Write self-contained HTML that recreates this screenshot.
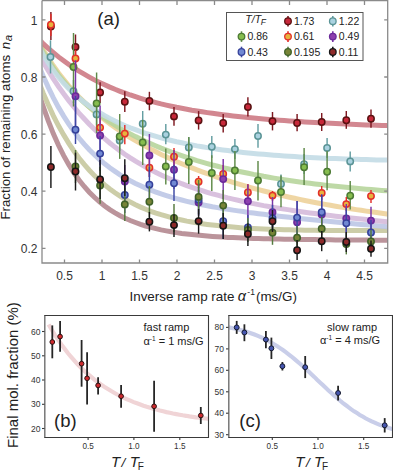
<!DOCTYPE html>
<html><head><meta charset="utf-8"><style>
html,body{margin:0;padding:0;background:#fff;width:393px;height:470px;overflow:hidden}
body{position:relative;font-family:"Liberation Sans",sans-serif}
svg text{font-family:"Liberation Sans",sans-serif}
</style></head><body>
<svg width="393" height="470" viewBox="0 0 393 470" style="position:absolute;left:0;top:0">
<defs><clipPath id="ca"><rect x="42.5" y="0.5" width="345.5" height="262"/></clipPath><clipPath id="cb"><rect x="44.5" y="315" width="164" height="122"/></clipPath><clipPath id="cc"><rect x="229" y="315" width="163.5" height="122"/></clipPath></defs>
<g clip-path="url(#ca)" fill="none" stroke-width="5" stroke-linecap="butt">
<path d="M38 90.1 L43.1 106.4 L48.3 120.9 L53.4 133.8 L58.5 145.3 L63.7 155.6 L68.8 164.7 L73.9 172.8 L79 180 L84.2 186.5 L89.3 192.2 L94.4 197.3 L99.6 201.9 L104.7 206 L109.8 209.6 L115 212.8 L120.1 215.7 L125.2 218.2 L130.3 220.5 L135.5 222.5 L140.6 224.4 L145.7 226 L150.9 227.4 L156 228.7 L161.1 229.9 L166.3 230.9 L171.4 231.8 L176.5 232.6 L181.7 233.4 L186.8 234 L191.9 234.6 L197 235.1 L202.2 235.6 L207.3 236 L212.4 236.4 L217.6 236.8 L222.7 237.1 L227.8 237.4 L233 237.6 L238.1 237.8 L243.2 238 L248.3 238.2 L253.5 238.4 L258.6 238.6 L263.7 238.7 L268.9 238.8 L274 238.9 L279.1 239.1 L284.3 239.2 L289.4 239.2 L294.5 239.3 L299.7 239.4 L304.8 239.5 L309.9 239.6 L315 239.6 L320.2 239.7 L325.3 239.8 L330.4 239.8 L335.6 239.9 L340.7 239.9 L345.8 240 L351 240 L356.1 240.1 L361.2 240.1 L366.3 240.1 L371.5 240.2 L376.6 240.2 L381.7 240.3 L386.9 240.3 L392 240.3" stroke="#b48890" stroke-opacity="0.9"/>
<path d="M38 79.8 L43.1 92.9 L48.3 104.8 L53.4 115.8 L58.5 125.8 L63.7 134.9 L68.8 143.3 L73.9 151 L79 158 L84.2 164.4 L89.3 170.2 L94.4 175.6 L99.6 180.5 L104.7 184.9 L109.8 189 L115 192.8 L120.1 196.2 L125.2 199.3 L130.3 202.1 L135.5 204.7 L140.6 207.1 L145.7 209.3 L150.9 211.3 L156 213.1 L161.1 214.7 L166.3 216.2 L171.4 217.6 L176.5 218.9 L181.7 220 L186.8 221.1 L191.9 222 L197 222.9 L202.2 223.7 L207.3 224.4 L212.4 225 L217.6 225.6 L222.7 226.2 L227.8 226.6 L233 227.1 L238.1 227.5 L243.2 227.9 L248.3 228.2 L253.5 228.5 L258.6 228.7 L263.7 229 L268.9 229.2 L274 229.4 L279.1 229.6 L284.3 229.7 L289.4 229.8 L294.5 230 L299.7 230.1 L304.8 230.2 L309.9 230.2 L315 230.3 L320.2 230.4 L325.3 230.4 L330.4 230.5 L335.6 230.5 L340.7 230.5 L345.8 230.6 L351 230.6 L356.1 230.6 L361.2 230.6 L366.3 230.6 L371.5 230.6 L376.6 230.6 L381.7 230.6 L386.9 230.5 L392 230.5" stroke="#c6c89e" stroke-opacity="0.9"/>
<path d="M38 63.5 L43.1 76 L48.3 87.4 L53.4 97.8 L58.5 107.4 L63.7 116.1 L68.8 124 L73.9 131.3 L79 138 L84.2 144.1 L89.3 149.7 L94.4 154.8 L99.6 159.5 L104.7 163.8 L109.8 167.8 L115 171.4 L120.1 174.8 L125.2 177.9 L130.3 180.7 L135.5 183.4 L140.6 185.8 L145.7 188.1 L150.9 190.2 L156 192.1 L161.1 193.9 L166.3 195.6 L171.4 197.2 L176.5 198.6 L181.7 200 L186.8 201.3 L191.9 202.5 L197 203.6 L202.2 204.7 L207.3 205.7 L212.4 206.7 L217.6 207.6 L222.7 208.5 L227.8 209.3 L233 210.1 L238.1 210.9 L243.2 211.6 L248.3 212.4 L253.5 213 L258.6 213.7 L263.7 214.3 L268.9 215 L274 215.6 L279.1 216.2 L284.3 216.7 L289.4 217.3 L294.5 217.9 L299.7 218.4 L304.8 218.9 L309.9 219.5 L315 220 L320.2 220.5 L325.3 221 L330.4 221.5 L335.6 222 L340.7 222.5 L345.8 222.9 L351 223.4 L356.1 223.9 L361.2 224.4 L366.3 224.8 L371.5 225.3 L376.6 225.8 L381.7 226.2 L386.9 226.7 L392 227.1" stroke="#bcc6e6" stroke-opacity="0.9"/>
<path d="M38 52.8 L43.1 62 L48.3 70.7 L53.4 78.8 L58.5 86.5 L63.7 93.8 L68.8 100.6 L73.9 107 L79 113.1 L84.2 118.8 L89.3 124.3 L94.4 129.3 L99.6 134.2 L104.7 138.7 L109.8 143 L115 147.1 L120.1 150.9 L125.2 154.5 L130.3 157.9 L135.5 161.2 L140.6 164.2 L145.7 167.1 L150.9 169.9 L156 172.5 L161.1 175 L166.3 177.3 L171.4 179.5 L176.5 181.6 L181.7 183.7 L186.8 185.6 L191.9 187.4 L197 189.1 L202.2 190.7 L207.3 192.3 L212.4 193.8 L217.6 195.2 L222.7 196.6 L227.8 197.9 L233 199.1 L238.1 200.3 L243.2 201.5 L248.3 202.6 L253.5 203.6 L258.6 204.6 L263.7 205.6 L268.9 206.5 L274 207.4 L279.1 208.3 L284.3 209.1 L289.4 209.9 L294.5 210.7 L299.7 211.5 L304.8 212.2 L309.9 212.9 L315 213.6 L320.2 214.3 L325.3 214.9 L330.4 215.6 L335.6 216.2 L340.7 216.8 L345.8 217.4 L351 218 L356.1 218.5 L361.2 219.1 L366.3 219.6 L371.5 220.2 L376.6 220.7 L381.7 221.2 L386.9 221.7 L392 222.2" stroke="#d5bada" stroke-opacity="0.9"/>
<path d="M38 40.6 L43.1 49.7 L48.3 58.1 L53.4 65.8 L58.5 73 L63.7 79.6 L68.8 85.8 L73.9 91.6 L79 97 L84.2 102.1 L89.3 106.9 L94.4 111.5 L99.6 115.8 L104.7 119.8 L109.8 123.7 L115 127.4 L120.1 130.9 L125.2 134.3 L130.3 137.5 L135.5 140.6 L140.6 143.6 L145.7 146.4 L150.9 149.2 L156 151.8 L161.1 154.4 L166.3 156.8 L171.4 159.2 L176.5 161.5 L181.7 163.7 L186.8 165.8 L191.9 167.9 L197 169.9 L202.2 171.8 L207.3 173.7 L212.4 175.5 L217.6 177.3 L222.7 179 L227.8 180.7 L233 182.3 L238.1 183.9 L243.2 185.4 L248.3 186.8 L253.5 188.3 L258.6 189.7 L263.7 191 L268.9 192.3 L274 193.6 L279.1 194.8 L284.3 196 L289.4 197.2 L294.5 198.3 L299.7 199.4 L304.8 200.5 L309.9 201.5 L315 202.5 L320.2 203.5 L325.3 204.4 L330.4 205.3 L335.6 206.2 L340.7 207.1 L345.8 207.9 L351 208.8 L356.1 209.6 L361.2 210.3 L366.3 211.1 L371.5 211.8 L376.6 212.5 L381.7 213.2 L386.9 213.9 L392 214.5" stroke="#edd29a" stroke-opacity="0.9"/>
<path d="M38 42.2 L43.1 51.7 L48.3 60.3 L53.4 68 L58.5 75 L63.7 81.5 L68.8 87.4 L73.9 92.8 L79 97.9 L84.2 102.6 L89.3 107 L94.4 111.1 L99.6 114.9 L104.7 118.5 L109.8 122 L115 125.2 L120.1 128.3 L125.2 131.2 L130.3 133.9 L135.5 136.6 L140.6 139.1 L145.7 141.5 L150.9 143.8 L156 146 L161.1 148.1 L166.3 150.1 L171.4 152.1 L176.5 153.9 L181.7 155.7 L186.8 157.4 L191.9 159 L197 160.6 L202.2 162.1 L207.3 163.6 L212.4 165 L217.6 166.3 L222.7 167.6 L227.8 168.8 L233 170 L238.1 171.2 L243.2 172.3 L248.3 173.3 L253.5 174.4 L258.6 175.3 L263.7 176.3 L268.9 177.2 L274 178.1 L279.1 178.9 L284.3 179.7 L289.4 180.5 L294.5 181.3 L299.7 182 L304.8 182.7 L309.9 183.3 L315 184 L320.2 184.6 L325.3 185.2 L330.4 185.8 L335.6 186.3 L340.7 186.8 L345.8 187.3 L351 187.8 L356.1 188.3 L361.2 188.8 L366.3 189.2 L371.5 189.6 L376.6 190 L381.7 190.4 L386.9 190.8 L392 191.1" stroke="#b7d59c" stroke-opacity="0.9"/>
<path d="M38 45.2 L43.1 54.7 L48.3 63.1 L53.4 70.6 L58.5 77.2 L63.7 83.3 L68.8 88.7 L73.9 93.6 L79 98.1 L84.2 102.2 L89.3 106 L94.4 109.5 L99.6 112.7 L104.7 115.7 L109.8 118.4 L115 121 L120.1 123.4 L125.2 125.7 L130.3 127.8 L135.5 129.7 L140.6 131.6 L145.7 133.3 L150.9 134.9 L156 136.4 L161.1 137.9 L166.3 139.2 L171.4 140.5 L176.5 141.7 L181.7 142.8 L186.8 143.9 L191.9 144.9 L197 145.9 L202.2 146.8 L207.3 147.6 L212.4 148.4 L217.6 149.2 L222.7 149.9 L227.8 150.5 L233 151.2 L238.1 151.8 L243.2 152.4 L248.3 152.9 L253.5 153.4 L258.6 153.9 L263.7 154.3 L268.9 154.8 L274 155.2 L279.1 155.6 L284.3 155.9 L289.4 156.3 L294.5 156.6 L299.7 156.9 L304.8 157.2 L309.9 157.4 L315 157.7 L320.2 157.9 L325.3 158.2 L330.4 158.4 L335.6 158.6 L340.7 158.8 L345.8 159 L351 159.2 L356.1 159.3 L361.2 159.5 L366.3 159.6 L371.5 159.8 L376.6 159.9 L381.7 160 L386.9 160.1 L392 160.2" stroke="#c3dce6" stroke-opacity="0.9"/>
<path d="M38 38.6 L43.1 43.6 L48.3 48.3 L53.4 52.7 L58.5 56.9 L63.7 60.8 L68.8 64.5 L73.9 67.9 L79 71.2 L84.2 74.2 L89.3 77.1 L94.4 79.9 L99.6 82.4 L104.7 84.8 L109.8 87.1 L115 89.3 L120.1 91.3 L125.2 93.2 L130.3 95 L135.5 96.7 L140.6 98.3 L145.7 99.8 L150.9 101.2 L156 102.6 L161.1 103.9 L166.3 105.1 L171.4 106.2 L176.5 107.3 L181.7 108.3 L186.8 109.2 L191.9 110.2 L197 111 L202.2 111.8 L207.3 112.6 L212.4 113.3 L217.6 114 L222.7 114.7 L227.8 115.3 L233 115.9 L238.1 116.5 L243.2 117 L248.3 117.5 L253.5 118 L258.6 118.5 L263.7 118.9 L268.9 119.4 L274 119.8 L279.1 120.2 L284.3 120.5 L289.4 120.9 L294.5 121.2 L299.7 121.6 L304.8 121.9 L309.9 122.2 L315 122.5 L320.2 122.7 L325.3 123 L330.4 123.3 L335.6 123.5 L340.7 123.8 L345.8 124 L351 124.2 L356.1 124.5 L361.2 124.7 L366.3 124.9 L371.5 125.1 L376.6 125.3 L381.7 125.5 L386.9 125.6 L392 125.8" stroke="#cd7a84" stroke-opacity="0.9"/>
</g>
<g stroke="#8a8a8a" stroke-width="1.3" fill="none">
<path d="M42 0.5 V263 H387.7 V0.5 H42"/>
<path d="M64.5 263 v-3.5 M64.5 0 v5"/>
<path d="M102 263 v-3.5 M102 0 v5"/>
<path d="M139.5 263 v-3.5 M139.5 0 v5"/>
<path d="M177 263 v-3.5 M177 0 v5"/>
<path d="M214.5 263 v-3.5 M214.5 0 v5"/>
<path d="M252 263 v-3.5 M252 0 v5"/>
<path d="M289.5 263 v-3.5 M289.5 0 v5"/>
<path d="M327 263 v-3.5 M327 0 v5"/>
<path d="M364.5 263 v-3.5 M364.5 0 v5"/>
<path d="M42 19.9 h3.5 M387.7 19.9 h-3.5"/>
<path d="M42 77 h3.5 M387.7 77 h-3.5"/>
<path d="M42 134.1 h3.5 M387.7 134.1 h-3.5"/>
<path d="M42 191.2 h3.5 M387.7 191.2 h-3.5"/>
<path d="M42 248.3 h3.5 M387.7 248.3 h-3.5"/>
</g>
<g>
<line x1="50.9" y1="12" x2="50.9" y2="40" stroke="#7e1820" stroke-width="1.45"/>
<circle cx="50.9" cy="26.4" r="3.2" fill="#c8283a" stroke="#5a1212" stroke-width="1.5"/>
<line x1="75.5" y1="34.5" x2="75.5" y2="59.5" stroke="#7e1820" stroke-width="1.45"/>
<circle cx="75.5" cy="47" r="3.2" fill="#c8283a" stroke="#5a1212" stroke-width="1.5"/>
<line x1="100.1" y1="82.3" x2="100.1" y2="103" stroke="#7e1820" stroke-width="1.45"/>
<circle cx="100.1" cy="92.4" r="3.2" fill="#c8283a" stroke="#5a1212" stroke-width="1.5"/>
<line x1="124.8" y1="91.2" x2="124.8" y2="112" stroke="#7e1820" stroke-width="1.45"/>
<circle cx="124.8" cy="101.8" r="3.2" fill="#c8283a" stroke="#5a1212" stroke-width="1.5"/>
<line x1="149.4" y1="91.8" x2="149.4" y2="110.3" stroke="#7e1820" stroke-width="1.45"/>
<circle cx="149.4" cy="100.9" r="3.2" fill="#c8283a" stroke="#5a1212" stroke-width="1.5"/>
<line x1="174" y1="107" x2="174" y2="125.7" stroke="#7e1820" stroke-width="1.45"/>
<circle cx="174" cy="116.4" r="3.2" fill="#c8283a" stroke="#5a1212" stroke-width="1.5"/>
<line x1="198.6" y1="111.1" x2="198.6" y2="129.6" stroke="#7e1820" stroke-width="1.45"/>
<circle cx="198.6" cy="120.4" r="3.2" fill="#c8283a" stroke="#5a1212" stroke-width="1.5"/>
<line x1="223.2" y1="113.9" x2="223.2" y2="132.4" stroke="#7e1820" stroke-width="1.45"/>
<circle cx="223.2" cy="123" r="3.2" fill="#c8283a" stroke="#5a1212" stroke-width="1.5"/>
<line x1="247.9" y1="97.3" x2="247.9" y2="116.6" stroke="#7e1820" stroke-width="1.45"/>
<circle cx="247.9" cy="107" r="3.2" fill="#c8283a" stroke="#5a1212" stroke-width="1.5"/>
<line x1="272.5" y1="112" x2="272.5" y2="130.4" stroke="#7e1820" stroke-width="1.45"/>
<circle cx="272.5" cy="121.3" r="3.2" fill="#c8283a" stroke="#5a1212" stroke-width="1.5"/>
<line x1="297.1" y1="113.9" x2="297.1" y2="131.3" stroke="#7e1820" stroke-width="1.45"/>
<circle cx="297.1" cy="123" r="3.2" fill="#c8283a" stroke="#5a1212" stroke-width="1.5"/>
<line x1="321.7" y1="113" x2="321.7" y2="131" stroke="#7e1820" stroke-width="1.45"/>
<circle cx="321.7" cy="122" r="3.2" fill="#c8283a" stroke="#5a1212" stroke-width="1.5"/>
<line x1="346.3" y1="111" x2="346.3" y2="128.8" stroke="#7e1820" stroke-width="1.45"/>
<circle cx="346.3" cy="120.2" r="3.2" fill="#c8283a" stroke="#5a1212" stroke-width="1.5"/>
<line x1="371" y1="109.6" x2="371" y2="127.7" stroke="#7e1820" stroke-width="1.45"/>
<circle cx="371" cy="118.8" r="3.2" fill="#c8283a" stroke="#5a1212" stroke-width="1.5"/>
<line x1="50.5" y1="40.3" x2="50.5" y2="73.5" stroke="#649ea2" stroke-width="1.45"/>
<circle cx="50.5" cy="57" r="3.2" fill="#aad2e0" stroke="#5b9496" stroke-width="1.5"/>
<line x1="73.5" y1="80" x2="73.5" y2="103" stroke="#649ea2" stroke-width="1.45"/>
<circle cx="73.5" cy="91.3" r="3.2" fill="#aad2e0" stroke="#5b9496" stroke-width="1.5"/>
<line x1="96.6" y1="104" x2="96.6" y2="125" stroke="#649ea2" stroke-width="1.45"/>
<circle cx="96.6" cy="114.4" r="3.2" fill="#aad2e0" stroke="#5b9496" stroke-width="1.5"/>
<line x1="119.7" y1="130" x2="119.7" y2="151" stroke="#649ea2" stroke-width="1.45"/>
<circle cx="119.7" cy="140.5" r="3.2" fill="#aad2e0" stroke="#5b9496" stroke-width="1.5"/>
<line x1="142.7" y1="111" x2="142.7" y2="136" stroke="#649ea2" stroke-width="1.45"/>
<circle cx="142.7" cy="123.8" r="3.2" fill="#aad2e0" stroke="#5b9496" stroke-width="1.5"/>
<line x1="165.8" y1="124" x2="165.8" y2="144.3" stroke="#649ea2" stroke-width="1.45"/>
<circle cx="165.8" cy="134.6" r="3.2" fill="#aad2e0" stroke="#5b9496" stroke-width="1.5"/>
<line x1="188.8" y1="137.3" x2="188.8" y2="157.2" stroke="#649ea2" stroke-width="1.45"/>
<circle cx="188.8" cy="147.4" r="3.2" fill="#aad2e0" stroke="#5b9496" stroke-width="1.5"/>
<line x1="211.8" y1="136" x2="211.8" y2="158" stroke="#649ea2" stroke-width="1.45"/>
<circle cx="211.8" cy="146.8" r="3.2" fill="#aad2e0" stroke="#5b9496" stroke-width="1.5"/>
<line x1="234.9" y1="139" x2="234.9" y2="159" stroke="#649ea2" stroke-width="1.45"/>
<circle cx="234.9" cy="149.1" r="3.2" fill="#aad2e0" stroke="#5b9496" stroke-width="1.5"/>
<line x1="258" y1="124" x2="258" y2="147.8" stroke="#649ea2" stroke-width="1.45"/>
<circle cx="258" cy="136" r="3.2" fill="#aad2e0" stroke="#5b9496" stroke-width="1.5"/>
<line x1="281" y1="174.6" x2="281" y2="193" stroke="#649ea2" stroke-width="1.45"/>
<circle cx="281" cy="184" r="3.2" fill="#aad2e0" stroke="#5b9496" stroke-width="1.5"/>
<line x1="304.1" y1="154" x2="304.1" y2="174" stroke="#649ea2" stroke-width="1.45"/>
<circle cx="304.1" cy="164.2" r="3.2" fill="#aad2e0" stroke="#5b9496" stroke-width="1.5"/>
<line x1="327.1" y1="138" x2="327.1" y2="158" stroke="#649ea2" stroke-width="1.45"/>
<circle cx="327.1" cy="147.9" r="3.2" fill="#aad2e0" stroke="#5b9496" stroke-width="1.5"/>
<line x1="350.2" y1="151.6" x2="350.2" y2="171.4" stroke="#649ea2" stroke-width="1.45"/>
<circle cx="350.2" cy="161.4" r="3.2" fill="#aad2e0" stroke="#5b9496" stroke-width="1.5"/>
<line x1="73.5" y1="33" x2="73.5" y2="106.5" stroke="#5f8a48" stroke-width="1.45"/>
<circle cx="73.5" cy="67" r="3.2" fill="#86bd4e" stroke="#4d7a35" stroke-width="1.5"/>
<line x1="96.6" y1="72.5" x2="96.6" y2="133.2" stroke="#5f8a48" stroke-width="1.45"/>
<circle cx="96.6" cy="103.4" r="3.2" fill="#86bd4e" stroke="#4d7a35" stroke-width="1.5"/>
<line x1="119.7" y1="114" x2="119.7" y2="158.9" stroke="#5f8a48" stroke-width="1.45"/>
<circle cx="119.7" cy="136.5" r="3.2" fill="#86bd4e" stroke="#4d7a35" stroke-width="1.5"/>
<line x1="142.7" y1="120" x2="142.7" y2="165" stroke="#5f8a48" stroke-width="1.45"/>
<circle cx="142.7" cy="142.4" r="3.2" fill="#86bd4e" stroke="#4d7a35" stroke-width="1.5"/>
<line x1="165.8" y1="148.6" x2="165.8" y2="184.4" stroke="#5f8a48" stroke-width="1.45"/>
<circle cx="165.8" cy="166.4" r="3.2" fill="#86bd4e" stroke="#4d7a35" stroke-width="1.5"/>
<line x1="188.8" y1="137" x2="188.8" y2="184" stroke="#5f8a48" stroke-width="1.45"/>
<circle cx="188.8" cy="162" r="3.2" fill="#86bd4e" stroke="#4d7a35" stroke-width="1.5"/>
<line x1="211.8" y1="155.3" x2="211.8" y2="191" stroke="#5f8a48" stroke-width="1.45"/>
<circle cx="211.8" cy="173" r="3.2" fill="#86bd4e" stroke="#4d7a35" stroke-width="1.5"/>
<line x1="234.9" y1="151" x2="234.9" y2="190" stroke="#5f8a48" stroke-width="1.45"/>
<circle cx="234.9" cy="170.5" r="3.2" fill="#86bd4e" stroke="#4d7a35" stroke-width="1.5"/>
<line x1="258" y1="161" x2="258" y2="200.5" stroke="#5f8a48" stroke-width="1.45"/>
<circle cx="258" cy="180.5" r="3.2" fill="#86bd4e" stroke="#4d7a35" stroke-width="1.5"/>
<line x1="281" y1="175.4" x2="281" y2="207.2" stroke="#5f8a48" stroke-width="1.45"/>
<circle cx="281" cy="192" r="3.2" fill="#86bd4e" stroke="#4d7a35" stroke-width="1.5"/>
<line x1="304.1" y1="148" x2="304.1" y2="185" stroke="#5f8a48" stroke-width="1.45"/>
<circle cx="304.1" cy="167.2" r="3.2" fill="#86bd4e" stroke="#4d7a35" stroke-width="1.5"/>
<line x1="327.1" y1="151" x2="327.1" y2="190.3" stroke="#5f8a48" stroke-width="1.45"/>
<circle cx="327.1" cy="171.8" r="3.2" fill="#86bd4e" stroke="#4d7a35" stroke-width="1.5"/>
<line x1="350.2" y1="181" x2="350.2" y2="209.6" stroke="#5f8a48" stroke-width="1.45"/>
<circle cx="350.2" cy="195.7" r="3.2" fill="#86bd4e" stroke="#4d7a35" stroke-width="1.5"/>
<line x1="50.9" y1="14" x2="50.9" y2="36" stroke="#e2302a" stroke-width="1.45"/>
<circle cx="50.9" cy="24.8" r="3.2" fill="#e7b33e" stroke="#e2302a" stroke-width="1.5"/>
<line x1="75.5" y1="50" x2="75.5" y2="67" stroke="#e2302a" stroke-width="1.45"/>
<circle cx="75.5" cy="58.5" r="3.2" fill="#e7b33e" stroke="#e2302a" stroke-width="1.5"/>
<line x1="100.1" y1="118" x2="100.1" y2="137" stroke="#e2302a" stroke-width="1.45"/>
<circle cx="100.1" cy="127.6" r="3.2" fill="#e7b33e" stroke="#e2302a" stroke-width="1.5"/>
<line x1="124.8" y1="124.9" x2="124.8" y2="144.3" stroke="#e2302a" stroke-width="1.45"/>
<circle cx="124.8" cy="133.6" r="3.2" fill="#e7b33e" stroke="#e2302a" stroke-width="1.5"/>
<line x1="149.4" y1="158" x2="149.4" y2="177" stroke="#e2302a" stroke-width="1.45"/>
<circle cx="149.4" cy="167.8" r="3.2" fill="#e7b33e" stroke="#e2302a" stroke-width="1.5"/>
<line x1="174" y1="148" x2="174" y2="166" stroke="#e2302a" stroke-width="1.45"/>
<circle cx="174" cy="156.8" r="3.2" fill="#e7b33e" stroke="#e2302a" stroke-width="1.5"/>
<line x1="198.6" y1="176" x2="198.6" y2="188" stroke="#e2302a" stroke-width="1.45"/>
<circle cx="198.6" cy="181.7" r="3.2" fill="#e7b33e" stroke="#e2302a" stroke-width="1.5"/>
<line x1="223.2" y1="165" x2="223.2" y2="183" stroke="#e2302a" stroke-width="1.45"/>
<circle cx="223.2" cy="173.9" r="3.2" fill="#e7b33e" stroke="#e2302a" stroke-width="1.5"/>
<line x1="247.9" y1="184" x2="247.9" y2="201" stroke="#e2302a" stroke-width="1.45"/>
<circle cx="247.9" cy="192.5" r="3.2" fill="#e7b33e" stroke="#e2302a" stroke-width="1.5"/>
<line x1="272.5" y1="191" x2="272.5" y2="201" stroke="#e2302a" stroke-width="1.45"/>
<circle cx="272.5" cy="195.6" r="3.2" fill="#e7b33e" stroke="#e2302a" stroke-width="1.5"/>
<line x1="321.7" y1="186" x2="321.7" y2="200" stroke="#e2302a" stroke-width="1.45"/>
<circle cx="321.7" cy="193" r="3.2" fill="#e7b33e" stroke="#e2302a" stroke-width="1.5"/>
<line x1="346.3" y1="197" x2="346.3" y2="211" stroke="#e2302a" stroke-width="1.45"/>
<circle cx="346.3" cy="204.1" r="3.2" fill="#e7b33e" stroke="#e2302a" stroke-width="1.5"/>
<line x1="371" y1="190" x2="371" y2="203" stroke="#e2302a" stroke-width="1.45"/>
<circle cx="371" cy="196.1" r="3.2" fill="#e7b33e" stroke="#e2302a" stroke-width="1.5"/>
<line x1="75.5" y1="60.3" x2="75.5" y2="132" stroke="#7a35a8" stroke-width="1.45"/>
<circle cx="75.5" cy="96.2" r="3.2" fill="#8d3fae" stroke="#6a2a9a" stroke-width="1.5"/>
<line x1="100.1" y1="105.6" x2="100.1" y2="165" stroke="#7a35a8" stroke-width="1.45"/>
<circle cx="100.1" cy="135.5" r="3.2" fill="#8d3fae" stroke="#6a2a9a" stroke-width="1.5"/>
<line x1="124.8" y1="165" x2="124.8" y2="198" stroke="#7a35a8" stroke-width="1.45"/>
<circle cx="124.8" cy="181.6" r="3.2" fill="#8d3fae" stroke="#6a2a9a" stroke-width="1.5"/>
<line x1="149.4" y1="134" x2="149.4" y2="177" stroke="#7a35a8" stroke-width="1.45"/>
<circle cx="149.4" cy="155.4" r="3.2" fill="#8d3fae" stroke="#6a2a9a" stroke-width="1.5"/>
<line x1="174" y1="150" x2="174" y2="189" stroke="#7a35a8" stroke-width="1.45"/>
<circle cx="174" cy="169.7" r="3.2" fill="#8d3fae" stroke="#6a2a9a" stroke-width="1.5"/>
<line x1="198.6" y1="190" x2="198.6" y2="215" stroke="#7a35a8" stroke-width="1.45"/>
<circle cx="198.6" cy="202.5" r="3.2" fill="#8d3fae" stroke="#6a2a9a" stroke-width="1.5"/>
<line x1="223.2" y1="158.9" x2="223.2" y2="199" stroke="#7a35a8" stroke-width="1.45"/>
<circle cx="223.2" cy="179.1" r="3.2" fill="#8d3fae" stroke="#6a2a9a" stroke-width="1.5"/>
<line x1="247.9" y1="184.5" x2="247.9" y2="218" stroke="#7a35a8" stroke-width="1.45"/>
<circle cx="247.9" cy="201.2" r="3.2" fill="#8d3fae" stroke="#6a2a9a" stroke-width="1.5"/>
<line x1="272.5" y1="197" x2="272.5" y2="227" stroke="#7a35a8" stroke-width="1.45"/>
<circle cx="272.5" cy="212.2" r="3.2" fill="#8d3fae" stroke="#6a2a9a" stroke-width="1.5"/>
<line x1="297.1" y1="201" x2="297.1" y2="243" stroke="#7a35a8" stroke-width="1.45"/>
<circle cx="297.1" cy="222.2" r="3.2" fill="#8d3fae" stroke="#6a2a9a" stroke-width="1.5"/>
<line x1="321.7" y1="194" x2="321.7" y2="235" stroke="#7a35a8" stroke-width="1.45"/>
<circle cx="321.7" cy="214.4" r="3.2" fill="#8d3fae" stroke="#6a2a9a" stroke-width="1.5"/>
<line x1="346.3" y1="204" x2="346.3" y2="233" stroke="#7a35a8" stroke-width="1.45"/>
<circle cx="346.3" cy="218.5" r="3.2" fill="#8d3fae" stroke="#6a2a9a" stroke-width="1.5"/>
<line x1="371" y1="206.7" x2="371" y2="234.5" stroke="#7a35a8" stroke-width="1.45"/>
<circle cx="371" cy="220.6" r="3.2" fill="#8d3fae" stroke="#6a2a9a" stroke-width="1.5"/>
<line x1="75.5" y1="96" x2="75.5" y2="144" stroke="#3c48a4" stroke-width="1.45"/>
<circle cx="75.5" cy="129.7" r="3.2" fill="#7189d3" stroke="#35409a" stroke-width="1.5"/>
<line x1="100.1" y1="136" x2="100.1" y2="171" stroke="#3c48a4" stroke-width="1.45"/>
<circle cx="100.1" cy="153.6" r="3.2" fill="#7189d3" stroke="#35409a" stroke-width="1.5"/>
<line x1="124.8" y1="177" x2="124.8" y2="213" stroke="#3c48a4" stroke-width="1.45"/>
<circle cx="124.8" cy="195" r="3.2" fill="#7189d3" stroke="#35409a" stroke-width="1.5"/>
<line x1="149.4" y1="167" x2="149.4" y2="203" stroke="#3c48a4" stroke-width="1.45"/>
<circle cx="149.4" cy="184.8" r="3.2" fill="#7189d3" stroke="#35409a" stroke-width="1.5"/>
<line x1="174" y1="165" x2="174" y2="201" stroke="#3c48a4" stroke-width="1.45"/>
<circle cx="174" cy="183.3" r="3.2" fill="#7189d3" stroke="#35409a" stroke-width="1.5"/>
<line x1="198.6" y1="183" x2="198.6" y2="216" stroke="#3c48a4" stroke-width="1.45"/>
<circle cx="198.6" cy="199.7" r="3.2" fill="#7189d3" stroke="#35409a" stroke-width="1.5"/>
<line x1="223.2" y1="205" x2="223.2" y2="239" stroke="#3c48a4" stroke-width="1.45"/>
<circle cx="223.2" cy="221.2" r="3.2" fill="#7189d3" stroke="#35409a" stroke-width="1.5"/>
<line x1="247.9" y1="215" x2="247.9" y2="240" stroke="#3c48a4" stroke-width="1.45"/>
<circle cx="247.9" cy="227.4" r="3.2" fill="#7189d3" stroke="#35409a" stroke-width="1.5"/>
<line x1="272.5" y1="205" x2="272.5" y2="231" stroke="#3c48a4" stroke-width="1.45"/>
<circle cx="272.5" cy="218.3" r="3.2" fill="#7189d3" stroke="#35409a" stroke-width="1.5"/>
<line x1="297.1" y1="200.9" x2="297.1" y2="234" stroke="#3c48a4" stroke-width="1.45"/>
<circle cx="297.1" cy="217.6" r="3.2" fill="#7189d3" stroke="#35409a" stroke-width="1.5"/>
<line x1="321.7" y1="195" x2="321.7" y2="229" stroke="#3c48a4" stroke-width="1.45"/>
<circle cx="321.7" cy="212.3" r="3.2" fill="#7189d3" stroke="#35409a" stroke-width="1.5"/>
<line x1="346.3" y1="208" x2="346.3" y2="238" stroke="#3c48a4" stroke-width="1.45"/>
<circle cx="346.3" cy="223.3" r="3.2" fill="#7189d3" stroke="#35409a" stroke-width="1.5"/>
<line x1="371" y1="220" x2="371" y2="245" stroke="#3c48a4" stroke-width="1.45"/>
<circle cx="371" cy="232.5" r="3.2" fill="#7189d3" stroke="#35409a" stroke-width="1.5"/>
<line x1="75.5" y1="150" x2="75.5" y2="183" stroke="#557a3e" stroke-width="1.45"/>
<circle cx="75.5" cy="166.5" r="3.2" fill="#778437" stroke="#3f6128" stroke-width="1.5"/>
<line x1="100.1" y1="167" x2="100.1" y2="203.8" stroke="#557a3e" stroke-width="1.45"/>
<circle cx="100.1" cy="185.5" r="3.2" fill="#778437" stroke="#3f6128" stroke-width="1.5"/>
<line x1="124.8" y1="188" x2="124.8" y2="221" stroke="#557a3e" stroke-width="1.45"/>
<circle cx="124.8" cy="204.4" r="3.2" fill="#778437" stroke="#3f6128" stroke-width="1.5"/>
<line x1="149.4" y1="186" x2="149.4" y2="217" stroke="#557a3e" stroke-width="1.45"/>
<circle cx="149.4" cy="201.7" r="3.2" fill="#778437" stroke="#3f6128" stroke-width="1.5"/>
<line x1="174" y1="204" x2="174" y2="232" stroke="#557a3e" stroke-width="1.45"/>
<circle cx="174" cy="218" r="3.2" fill="#778437" stroke="#3f6128" stroke-width="1.5"/>
<line x1="198.6" y1="180" x2="198.6" y2="214" stroke="#557a3e" stroke-width="1.45"/>
<circle cx="198.6" cy="196.9" r="3.2" fill="#778437" stroke="#3f6128" stroke-width="1.5"/>
<line x1="223.2" y1="190" x2="223.2" y2="221" stroke="#557a3e" stroke-width="1.45"/>
<circle cx="223.2" cy="205.6" r="3.2" fill="#778437" stroke="#3f6128" stroke-width="1.5"/>
<line x1="247.9" y1="218" x2="247.9" y2="242" stroke="#557a3e" stroke-width="1.45"/>
<circle cx="247.9" cy="230" r="3.2" fill="#778437" stroke="#3f6128" stroke-width="1.5"/>
<line x1="272.5" y1="221" x2="272.5" y2="244.8" stroke="#557a3e" stroke-width="1.45"/>
<circle cx="272.5" cy="232.8" r="3.2" fill="#778437" stroke="#3f6128" stroke-width="1.5"/>
<line x1="297.1" y1="226" x2="297.1" y2="249" stroke="#557a3e" stroke-width="1.45"/>
<circle cx="297.1" cy="237.7" r="3.2" fill="#778437" stroke="#3f6128" stroke-width="1.5"/>
<line x1="321.7" y1="217" x2="321.7" y2="240" stroke="#557a3e" stroke-width="1.45"/>
<circle cx="321.7" cy="228.7" r="3.2" fill="#778437" stroke="#3f6128" stroke-width="1.5"/>
<line x1="346.3" y1="233" x2="346.3" y2="254.4" stroke="#557a3e" stroke-width="1.45"/>
<circle cx="346.3" cy="244" r="3.2" fill="#778437" stroke="#3f6128" stroke-width="1.5"/>
<line x1="371" y1="230" x2="371" y2="253" stroke="#557a3e" stroke-width="1.45"/>
<circle cx="371" cy="241.5" r="3.2" fill="#778437" stroke="#3f6128" stroke-width="1.5"/>
<line x1="50.9" y1="146" x2="50.9" y2="188" stroke="#1a1a1a" stroke-width="1.45"/>
<circle cx="50.9" cy="167" r="3.2" fill="#8e2a2a" stroke="#151515" stroke-width="1.5"/>
<line x1="75.5" y1="152.7" x2="75.5" y2="190.5" stroke="#1a1a1a" stroke-width="1.45"/>
<circle cx="75.5" cy="171.5" r="3.2" fill="#8e2a2a" stroke="#151515" stroke-width="1.5"/>
<line x1="100.1" y1="160" x2="100.1" y2="199" stroke="#1a1a1a" stroke-width="1.45"/>
<circle cx="100.1" cy="179.4" r="3.2" fill="#8e2a2a" stroke="#151515" stroke-width="1.5"/>
<line x1="124.8" y1="159.3" x2="124.8" y2="196" stroke="#1a1a1a" stroke-width="1.45"/>
<circle cx="124.8" cy="178.2" r="3.2" fill="#8e2a2a" stroke="#151515" stroke-width="1.5"/>
<line x1="149.4" y1="212" x2="149.4" y2="231.4" stroke="#1a1a1a" stroke-width="1.45"/>
<circle cx="149.4" cy="221.8" r="3.2" fill="#8e2a2a" stroke="#151515" stroke-width="1.5"/>
<line x1="174" y1="214.3" x2="174" y2="237" stroke="#1a1a1a" stroke-width="1.45"/>
<circle cx="174" cy="225.1" r="3.2" fill="#8e2a2a" stroke="#151515" stroke-width="1.5"/>
<line x1="198.6" y1="209" x2="198.6" y2="233.7" stroke="#1a1a1a" stroke-width="1.45"/>
<circle cx="198.6" cy="221.1" r="3.2" fill="#8e2a2a" stroke="#151515" stroke-width="1.5"/>
<line x1="223.2" y1="213" x2="223.2" y2="239" stroke="#1a1a1a" stroke-width="1.45"/>
<circle cx="223.2" cy="225.8" r="3.2" fill="#8e2a2a" stroke="#151515" stroke-width="1.5"/>
<line x1="247.9" y1="223.2" x2="247.9" y2="246" stroke="#1a1a1a" stroke-width="1.45"/>
<circle cx="247.9" cy="234" r="3.2" fill="#8e2a2a" stroke="#151515" stroke-width="1.5"/>
<line x1="272.5" y1="210" x2="272.5" y2="232" stroke="#1a1a1a" stroke-width="1.45"/>
<circle cx="272.5" cy="221.2" r="3.2" fill="#8e2a2a" stroke="#151515" stroke-width="1.5"/>
<line x1="297.1" y1="240" x2="297.1" y2="260" stroke="#1a1a1a" stroke-width="1.45"/>
<circle cx="297.1" cy="250.2" r="3.2" fill="#8e2a2a" stroke="#151515" stroke-width="1.5"/>
<line x1="321.7" y1="231" x2="321.7" y2="251.2" stroke="#1a1a1a" stroke-width="1.45"/>
<circle cx="321.7" cy="241.3" r="3.2" fill="#8e2a2a" stroke="#151515" stroke-width="1.5"/>
<line x1="346.3" y1="232" x2="346.3" y2="252" stroke="#1a1a1a" stroke-width="1.45"/>
<circle cx="346.3" cy="242" r="3.2" fill="#8e2a2a" stroke="#151515" stroke-width="1.5"/>
<line x1="371" y1="240.5" x2="371" y2="256.7" stroke="#1a1a1a" stroke-width="1.45"/>
<circle cx="371" cy="248.7" r="3.2" fill="#8e2a2a" stroke="#151515" stroke-width="1.5"/>
</g>
<rect x="226.5" y="12.5" width="136.5" height="48" fill="#fff" stroke="#555" stroke-width="1"/>
<line x1="288" y1="15.9" x2="288" y2="26.5" stroke="#7e1820" stroke-width="1.6"/>
<circle cx="288" cy="21.2" r="3.3" fill="#c8283a" stroke="#5a1212" stroke-width="1.3"/>
<text x="294" y="24.9" font-size="10.5" fill="#222">1.73</text>
<line x1="332.8" y1="15.9" x2="332.8" y2="26.5" stroke="#649ea2" stroke-width="1.6"/>
<circle cx="332.8" cy="21.2" r="3.3" fill="#aad2e0" stroke="#5b9496" stroke-width="1.3"/>
<text x="338.8" y="24.9" font-size="10.5" fill="#222">1.22</text>
<line x1="241.5" y1="31.3" x2="241.5" y2="41.9" stroke="#5f8a48" stroke-width="1.6"/>
<circle cx="241.5" cy="36.6" r="3.3" fill="#86bd4e" stroke="#4d7a35" stroke-width="1.3"/>
<text x="247.5" y="40.3" font-size="10.5" fill="#222">0.86</text>
<line x1="288" y1="31.3" x2="288" y2="41.9" stroke="#e2302a" stroke-width="1.6"/>
<circle cx="288" cy="36.6" r="3.3" fill="#e7b33e" stroke="#e2302a" stroke-width="1.3"/>
<text x="294" y="40.3" font-size="10.5" fill="#222">0.61</text>
<line x1="332.8" y1="31.3" x2="332.8" y2="41.9" stroke="#7a35a8" stroke-width="1.6"/>
<circle cx="332.8" cy="36.6" r="3.3" fill="#8d3fae" stroke="#6a2a9a" stroke-width="1.3"/>
<text x="338.8" y="40.3" font-size="10.5" fill="#222">0.49</text>
<line x1="241.5" y1="46.7" x2="241.5" y2="57.3" stroke="#3c48a4" stroke-width="1.6"/>
<circle cx="241.5" cy="52" r="3.3" fill="#7189d3" stroke="#35409a" stroke-width="1.3"/>
<text x="247.5" y="55.7" font-size="10.5" fill="#222">0.43</text>
<line x1="288" y1="46.7" x2="288" y2="57.3" stroke="#557a3e" stroke-width="1.6"/>
<circle cx="288" cy="52" r="3.3" fill="#778437" stroke="#3f6128" stroke-width="1.3"/>
<text x="294" y="55.7" font-size="10.5" fill="#222">0.195</text>
<line x1="332.8" y1="46.7" x2="332.8" y2="57.3" stroke="#1a1a1a" stroke-width="1.6"/>
<circle cx="332.8" cy="52" r="3.3" fill="#8e2a2a" stroke="#151515" stroke-width="1.3"/>
<text x="338.8" y="55.7" font-size="10.5" fill="#222">0.11</text>
<text x="245.3" y="22.7" font-size="10.5" font-style="italic" fill="#222">T/T<tspan font-size="8.5" dy="2.3" dx="-0.3">F</tspan></text>
<text x="97.3" y="24.7" font-size="18.5" fill="#222">(a)</text>
<text x="37.4" y="24.6" font-size="12" text-anchor="end" fill="#333">1</text>
<text x="37.4" y="81.7" font-size="12" text-anchor="end" fill="#333">0.8</text>
<text x="37.4" y="138.8" font-size="12" text-anchor="end" fill="#333">0.6</text>
<text x="37.4" y="195.9" font-size="12" text-anchor="end" fill="#333">0.4</text>
<text x="37.4" y="253" font-size="12" text-anchor="end" fill="#333">0.2</text>
<text x="64.5" y="280" font-size="12" text-anchor="middle" fill="#333">0.5</text>
<text x="102" y="280" font-size="12" text-anchor="middle" fill="#333">1</text>
<text x="139.5" y="280" font-size="12" text-anchor="middle" fill="#333">1.5</text>
<text x="177" y="280" font-size="12" text-anchor="middle" fill="#333">2</text>
<text x="214.5" y="280" font-size="12" text-anchor="middle" fill="#333">2.5</text>
<text x="252" y="280" font-size="12" text-anchor="middle" fill="#333">3</text>
<text x="289.5" y="280" font-size="12" text-anchor="middle" fill="#333">3.5</text>
<text x="327" y="280" font-size="12" text-anchor="middle" fill="#333">4</text>
<text x="364.5" y="280" font-size="12" text-anchor="middle" fill="#333">4.5</text>
<text x="129.5" y="301" font-size="13.4" fill="#222">Inverse ramp rate</text>
<text x="237.8" y="301.3" font-size="14.5" font-family="Liberation Serif" font-style="italic" fill="#222">&#945;</text>
<text x="247.3" y="295" font-size="8.5" fill="#222">-1</text>
<text x="256" y="301" font-size="13.4" fill="#222">(ms/G)</text>
<text transform="translate(9.7 219.6) rotate(-90)" font-size="13.3" fill="#222">Fraction of remaining atoms <tspan font-style="italic" dx="1.8">n</tspan><tspan font-style="italic" font-size="11.5" dy="2.5" dx="0.6">a</tspan></text>
<g clip-path="url(#cb)"><path d="M48.6 324.5 L51.9 330 L55.1 335.3 L58.4 340.2 L61.7 344.9 L65 349.3 L68.2 353.5 L71.5 357.4 L74.8 361.2 L78.1 364.7 L81.3 368 L84.6 371.2 L87.9 374.1 L91.2 376.9 L94.4 379.6 L97.7 382.1 L101 384.5 L104.2 386.7 L107.5 388.8 L110.8 390.8 L114.1 392.7 L117.3 394.5 L120.6 396.2 L123.9 397.8 L127.2 399.3 L130.4 400.7 L133.7 402.1 L137 403.3 L140.3 404.5 L143.5 405.7 L146.8 406.8 L150.1 407.8 L153.4 408.7 L156.6 409.6 L159.9 410.5 L163.2 411.3 L166.4 412.1 L169.7 412.8 L173 413.5 L176.3 414.1 L179.5 414.7 L182.8 415.3 L186.1 415.8 L189.4 416.4 L192.6 416.8 L195.9 417.3 L199.2 417.7 L202.5 418.1 L205.7 418.5 L209 418.9" fill="none" stroke="#f0d4d6" stroke-width="4.2"/></g>
<path d="M44.8 315 V438" stroke="#6e6e6e" stroke-width="1.4" fill="none"/>
<g stroke="#3a3a3a" stroke-width="1.1" fill="none"><path d="M44.5 315.5 H208.5 V437.5 H44.5"/>
<path d="M44.5 428.5 h-2.5"/>
<path d="M44.5 404.3 h-2.5"/>
<path d="M44.5 380 h-2.5"/>
<path d="M44.5 355.8 h-2.5"/>
<path d="M44.5 331.5 h-2.5"/>
<path d="M88.1 437.5 v2.5"/>
<path d="M133.9 437.5 v2.5"/>
<path d="M179.8 437.5 v2.5"/>
</g>
<text x="40.5" y="431.5" font-size="8.5" text-anchor="end" fill="#333">20</text>
<text x="40.5" y="407.3" font-size="8.5" text-anchor="end" fill="#333">30</text>
<text x="40.5" y="383" font-size="8.5" text-anchor="end" fill="#333">40</text>
<text x="40.5" y="358.8" font-size="8.5" text-anchor="end" fill="#333">50</text>
<text x="40.5" y="334.5" font-size="8.5" text-anchor="end" fill="#333">60</text>
<text x="88.1" y="449" font-size="8.2" text-anchor="middle" fill="#333">0.5</text>
<text x="133.9" y="449" font-size="8.2" text-anchor="middle" fill="#333">1.0</text>
<text x="179.8" y="449" font-size="8.2" text-anchor="middle" fill="#333">1.5</text>
<line x1="52.3" y1="325.4" x2="52.3" y2="358.3" stroke="#262626" stroke-width="1.8"/>
<circle cx="52.3" cy="342" r="2.35" fill="#cf2a2e" stroke="#2a1010" stroke-width="1"/>
<line x1="60.1" y1="320.9" x2="60.1" y2="351.8" stroke="#262626" stroke-width="1.8"/>
<circle cx="60.1" cy="336.6" r="2.35" fill="#cf2a2e" stroke="#2a1010" stroke-width="1"/>
<line x1="81.6" y1="340" x2="81.6" y2="386.7" stroke="#262626" stroke-width="1.8"/>
<circle cx="81.6" cy="363.7" r="2.35" fill="#cf2a2e" stroke="#2a1010" stroke-width="1"/>
<line x1="87.1" y1="352.2" x2="87.1" y2="404.5" stroke="#262626" stroke-width="1.8"/>
<circle cx="87.1" cy="378.3" r="2.35" fill="#cf2a2e" stroke="#2a1010" stroke-width="1"/>
<line x1="98.1" y1="377.3" x2="98.1" y2="394.4" stroke="#262626" stroke-width="1.8"/>
<circle cx="98.1" cy="385.4" r="2.35" fill="#cf2a2e" stroke="#2a1010" stroke-width="1"/>
<line x1="121.1" y1="385" x2="121.1" y2="407.8" stroke="#262626" stroke-width="1.8"/>
<circle cx="121.1" cy="396.2" r="2.35" fill="#cf2a2e" stroke="#2a1010" stroke-width="1"/>
<line x1="154.1" y1="380.7" x2="154.1" y2="431.8" stroke="#262626" stroke-width="1.8"/>
<circle cx="154.1" cy="406.3" r="2.35" fill="#cf2a2e" stroke="#2a1010" stroke-width="1"/>
<line x1="200.8" y1="407" x2="200.8" y2="424" stroke="#262626" stroke-width="1.8"/>
<circle cx="200.8" cy="415.5" r="2.35" fill="#cf2a2e" stroke="#2a1010" stroke-width="1"/>
<text x="54" y="427" font-size="18.5" fill="#222">(b)</text>
<text x="143.5" y="330.7" font-size="11" fill="#222">fast ramp</text>
<text x="143.5" y="344.6" font-size="11" fill="#222">&#945;<tspan font-size="6.5" dy="-4">-1</tspan><tspan dy="4"> = 1 ms/G</tspan></text>
<text transform="translate(18.4 448) rotate(-90)" font-size="15" fill="#222">Final mol. fraction (%)</text>
<g fill="#222"><text x="111" y="467" font-size="15" font-style="italic">T</text><text x="121.6" y="467" font-size="13.5" font-style="italic">/</text><text x="129.8" y="467" font-size="15" font-style="italic">T</text><text x="137.8" y="470" font-size="10">F</text></g>
<g clip-path="url(#cc)"><path d="M226 326.8 L228.8 327.3 L231.7 327.9 L234.5 328.5 L237.4 329.2 L240.2 329.9 L243.1 330.7 L245.9 331.5 L248.8 332.5 L251.6 333.5 L254.5 334.5 L257.3 335.7 L260.2 336.9 L263 338.2 L265.9 339.6 L268.7 341.1 L271.6 342.7 L274.4 344.4 L277.3 346.2 L280.1 348.1 L282.9 350 L285.8 352.1 L288.6 354.3 L291.5 356.5 L294.3 358.9 L297.2 361.3 L300 363.7 L302.9 366.3 L305.7 368.9 L308.6 371.5 L311.4 374.2 L314.3 376.9 L317.1 379.7 L320 382.4 L322.8 385.1 L325.7 387.8 L328.5 390.4 L331.4 393 L334.2 395.6 L337.1 398 L339.9 400.5 L342.7 402.8 L345.6 405 L348.4 407.2 L351.3 409.3 L354.1 411.3 L357 413.1 L359.8 414.9 L362.7 416.6 L365.5 418.2 L368.4 419.7 L371.2 421.1 L374.1 422.4 L376.9 423.7 L379.8 424.8 L382.6 425.9 L385.5 426.9 L388.3 427.8 L391.2 428.7 L394 429.4" fill="none" stroke="#c9cee9" stroke-width="4.1"/></g>
<path d="M228.8 315 V438" stroke="#6e6e6e" stroke-width="1.4" fill="none"/>
<g stroke="#3a3a3a" stroke-width="1.1" fill="none"><path d="M228.5 315.5 H392.5 V437.5 H228.5"/>
<path d="M228.5 434.7 h-2.5"/>
<path d="M228.5 413.2 h-2.5"/>
<path d="M228.5 391.8 h-2.5"/>
<path d="M228.5 370.3 h-2.5"/>
<path d="M228.5 348.9 h-2.5"/>
<path d="M228.5 327.4 h-2.5"/>
<path d="M272.3 437.5 v2.5"/>
<path d="M318 437.5 v2.5"/>
<path d="M363.7 437.5 v2.5"/>
</g>
<text x="224" y="437.7" font-size="8.5" text-anchor="end" fill="#333">30</text>
<text x="224" y="416.2" font-size="8.5" text-anchor="end" fill="#333">40</text>
<text x="224" y="394.8" font-size="8.5" text-anchor="end" fill="#333">50</text>
<text x="224" y="373.3" font-size="8.5" text-anchor="end" fill="#333">60</text>
<text x="224" y="351.9" font-size="8.5" text-anchor="end" fill="#333">70</text>
<text x="224" y="330.4" font-size="8.5" text-anchor="end" fill="#333">80</text>
<text x="272.3" y="449" font-size="8.2" text-anchor="middle" fill="#333">0.5</text>
<text x="318" y="449" font-size="8.2" text-anchor="middle" fill="#333">1.0</text>
<text x="363.7" y="449" font-size="8.2" text-anchor="middle" fill="#333">1.5</text>
<line x1="236.7" y1="320.9" x2="236.7" y2="333.9" stroke="#262626" stroke-width="1.8"/>
<circle cx="236.7" cy="327.4" r="2.45" fill="#4656b0" stroke="#151a30" stroke-width="1"/>
<line x1="244.4" y1="324.3" x2="244.4" y2="341.2" stroke="#262626" stroke-width="1.8"/>
<circle cx="244.4" cy="332.5" r="2.45" fill="#4656b0" stroke="#151a30" stroke-width="1"/>
<line x1="265.9" y1="331" x2="265.9" y2="348.2" stroke="#262626" stroke-width="1.8"/>
<circle cx="265.9" cy="339.6" r="2.45" fill="#4656b0" stroke="#151a30" stroke-width="1"/>
<line x1="271.4" y1="337.6" x2="271.4" y2="359" stroke="#262626" stroke-width="1.8"/>
<circle cx="271.4" cy="348.3" r="2.45" fill="#4656b0" stroke="#151a30" stroke-width="1"/>
<line x1="282.4" y1="362" x2="282.4" y2="370.5" stroke="#262626" stroke-width="1.8"/>
<circle cx="282.4" cy="366.2" r="2.45" fill="#4656b0" stroke="#151a30" stroke-width="1"/>
<line x1="305.2" y1="356" x2="305.2" y2="378.1" stroke="#262626" stroke-width="1.8"/>
<circle cx="305.2" cy="367.2" r="2.45" fill="#4656b0" stroke="#151a30" stroke-width="1"/>
<line x1="338.1" y1="385.7" x2="338.1" y2="400.6" stroke="#262626" stroke-width="1.8"/>
<circle cx="338.1" cy="393" r="2.45" fill="#4656b0" stroke="#151a30" stroke-width="1"/>
<line x1="384.7" y1="418.1" x2="384.7" y2="432.5" stroke="#262626" stroke-width="1.8"/>
<circle cx="384.7" cy="425.3" r="2.45" fill="#4656b0" stroke="#151a30" stroke-width="1"/>
<text x="239.3" y="427" font-size="18.5" fill="#222">(c)</text>
<text x="327" y="331.4" font-size="11" fill="#222">slow ramp</text>
<text x="320" y="344.4" font-size="11" fill="#222">&#945;<tspan font-size="6.5" dy="-4">-1</tspan><tspan dy="4"> = 4 ms/G</tspan></text>
<g fill="#222"><text x="295.3" y="467" font-size="15" font-style="italic">T</text><text x="305.9" y="467" font-size="13.5" font-style="italic">/</text><text x="314.1" y="467" font-size="15" font-style="italic">T</text><text x="322.1" y="470" font-size="10">F</text></g>
</svg>
</body></html>
